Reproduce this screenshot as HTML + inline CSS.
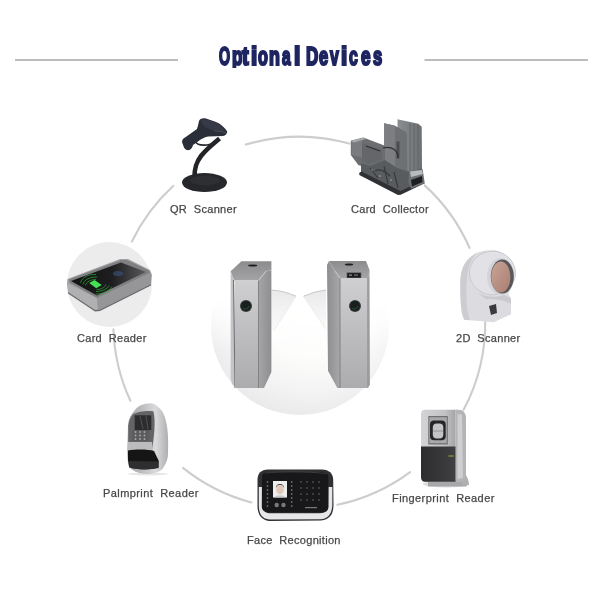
<!DOCTYPE html>
<html><head><meta charset="utf-8">
<style>
html,body{margin:0;padding:0;background:#fff;}
#c{position:relative;width:600px;height:600px;overflow:hidden;background:#fff;}
svg{position:absolute;left:0;top:0;}
.t{position:absolute;font-family:"Liberation Sans",sans-serif;font-size:11px;color:#474747;white-space:pre;line-height:12px;letter-spacing:0.3px;-webkit-text-stroke:0.25px #474747;will-change:transform;}
#title span{position:absolute;font-family:"Liberation Sans",sans-serif;font-weight:bold;line-height:40px;color:#1e2560;white-space:pre;transform-origin:0 0;-webkit-text-stroke:2.2px #1e2560;}
</style></head><body><div id="c">
<svg width="600" height="600" viewBox="0 0 600 600">
<defs>
  <radialGradient id="floor" cx="0.56" cy="0.36" r="0.68" fx="0.6" fy="0.3">
    <stop offset="0" stop-color="#fff"/><stop offset="0.5" stop-color="#fdfdfc"/><stop offset="0.8" stop-color="#f2f2f2"/><stop offset="1" stop-color="#e8e8e8"/>
  </radialGradient>
  <linearGradient id="floorfade" x1="0" x2="0" y1="0" y2="1">
    <stop offset="0" stop-color="#000"/><stop offset="0.35" stop-color="#000"/><stop offset="0.6" stop-color="#fff"/><stop offset="1" stop-color="#fff"/>
  </linearGradient>
  <mask id="fm"><rect x="200" y="230" width="200" height="200" fill="url(#floorfade)"/></mask>
  <linearGradient id="tfront" x1="0" x2="0" y1="0" y2="1">
    <stop offset="0" stop-color="#cfcfd2"/><stop offset="0.5" stop-color="#bdbdc0"/><stop offset="1" stop-color="#acacaf"/>
  </linearGradient>
  <linearGradient id="ttop" x1="0" x2="0" y1="0" y2="1">
    <stop offset="0" stop-color="#8c8c8f"/><stop offset="1" stop-color="#a4a4a7"/>
  </linearGradient>
  <linearGradient id="tside" x1="0" x2="1" y1="0" y2="0">
    <stop offset="0" stop-color="#a5a5a8"/><stop offset="1" stop-color="#8e8e91"/>
  </linearGradient>
  <linearGradient id="tside2" x1="0" x2="1" y1="0" y2="0">
    <stop offset="0" stop-color="#8e8e91"/><stop offset="1" stop-color="#a8a8ab"/>
  </linearGradient>
  <linearGradient id="wing" x1="0" x2="0" y1="0" y2="1">
    <stop offset="0" stop-color="#e9e9e9"/><stop offset="0.5" stop-color="#f3f3f3"/><stop offset="1" stop-color="#fafafa"/>
  </linearGradient>
  <linearGradient id="crtop" x1="0" x2="1" y1="0" y2="0">
    <stop offset="0" stop-color="#121212"/><stop offset="0.55" stop-color="#1e1e20"/><stop offset="1" stop-color="#5a5a5c"/>
  </linearGradient>
  <linearGradient id="ccback" x1="0" x2="1" y1="0" y2="0">
    <stop offset="0" stop-color="#8c8f92"/><stop offset="1" stop-color="#6c6f72"/>
  </linearGradient>
  <linearGradient id="fpdark" x1="0" x2="1" y1="0" y2="0">
    <stop offset="0" stop-color="#2c2c2e"/><stop offset="1" stop-color="#404042"/>
  </linearGradient>
  <linearGradient id="fpsilver" x1="0" x2="1" y1="0" y2="0">
    <stop offset="0" stop-color="#d4d4d6"/><stop offset="0.7" stop-color="#c2c2c4"/><stop offset="1" stop-color="#a4a4a6"/>
  </linearGradient>
  <linearGradient id="ppbody" x1="0" x2="1" y1="0" y2="0">
    <stop offset="0" stop-color="#a6a6a8"/><stop offset="0.3" stop-color="#b8b8ba"/><stop offset="0.7" stop-color="#dadadc"/><stop offset="1" stop-color="#aeaeb0"/>
  </linearGradient>
  <linearGradient id="lens" x1="0" x2="1" y1="0" y2="1">
    <stop offset="0" stop-color="#caa498"/><stop offset="1" stop-color="#a87e70"/>
  </linearGradient>
</defs>
<!-- title lines -->
<rect x="15" y="59" width="163" height="2" fill="#bdbdbd"/>
<rect x="424.5" y="59" width="163.5" height="2" fill="#bdbdbd"/>
<!-- circle arcs -->
<g fill="none" stroke="#cdcdcd" stroke-width="2.1" stroke-linecap="round">
<path d="M245.8 144.6 A186 186 0 0 1 349.3 143.6"/>
<path d="M424.7 185.4 A186 186 0 0 1 469.6 248.0"/>
<path d="M485.2 318.9 A186 186 0 0 1 463.6 409.8"/>
<path d="M410.1 472.1 A186 186 0 0 1 337.3 504.8"/>
<path d="M251.4 502.5 A186 186 0 0 1 183.0 467.9"/>
<path d="M130.4 400.8 A186 186 0 0 1 113.4 329.2"/>
<path d="M131.9 241.5 A186 186 0 0 1 173.4 185.8"/>
</g>

<!-- floor under turnstiles -->
<circle cx="300" cy="326" r="89" fill="url(#floor)" mask="url(#fm)"/>

<!-- QR scanner -->
<g id="qr">
<ellipse cx="204.5" cy="182.5" rx="22.5" ry="9.5" fill="#25272b"/>
<ellipse cx="205" cy="180.5" rx="15" ry="5" fill="#2d2f33"/>
<path d="M219.5 138.5 C213 144 206 149.5 201 156 C196.5 162 194.5 167 194.5 177" fill="none" stroke="#222428" stroke-width="4.6"/>
<path d="M195 141 C196 144 201 145.5 207 145 C212 144.5 215.5 142.5 216.5 139.5" fill="none" stroke="#25282e" stroke-width="1.6"/>
<path d="M199 121 C200 118.5 203 118 206 118.5 L216 122 C221 124 225 128 227.2 131.5 C227 134 225.5 135.5 223 136 L208 136.5 C204 137.5 201 139 198 141.5 L193 145 C192.5 147 191.5 149 189.5 150 C187 150.5 185 149.5 184 147.5 L182 142 C182 140 183 138.5 185 137.5 L197 129 C198 126 198.5 123 199 121 Z" fill="#2a2e38"/>
<path d="M201 120 C204 119 208 119.5 213 121.5 C219 124 223 127.5 225 131 L212 130 C206 128.5 202 125.5 201 120 Z" fill="#353a46"/>
<path d="M214 130.5 L226 132.5" stroke="#4a5262" stroke-width="1"/>
</g>

<!-- Card collector -->
<g id="cc">
<polygon points="397.5,119.2 418.3,123.7 421.7,126.7 422,168.3 411.7,175 406.7,175.8 397.5,173.3" fill="url(#ccback)"/>
<g stroke="#5c5f62" stroke-width="0.7"><line x1="410" y1="123" x2="410" y2="172"/><line x1="414" y1="124" x2="414" y2="171"/><line x1="418" y1="125" x2="418" y2="170"/></g>
<polygon points="384.2,123.3 395,125.8 406.7,132.5 407.5,175.8 395,170 384.2,161.7" fill="#6e7073"/>
<polygon points="384.2,123.3 395,125.8 395,170 384.2,161.7" fill="#7c7e81"/>
<rect x="396.5" y="141.5" width="3" height="17" fill="#4a4c4e"/>
<polygon points="350.8,140.8 363.3,137.5 385,145.8 385,163.3 368.3,168.3 358.3,165 350.8,155" fill="#6c6d70"/>
<polygon points="351.5,141.5 362,139 362,157.5 351.5,155" fill="#7a7b7d"/>
<polygon points="351,141 363,137.8 366,139 354,142.5" fill="#a8a9ab"/>
<polygon points="362,143 382,149.5 382,160 368,164 362,161" fill="#65666a"/>
<path d="M366 146 L380 151 M383 148 C392 146 398 150 398 158" stroke="#2e2f32" stroke-width="1.2" fill="none"/>
<polygon points="361,163 370,166 385,160 397,168 410,172 422,168 423,181 400,192 361,174" fill="#595c5f"/>
<path d="M370 168 L378 178 M384 166 L388 184 M394 172 L398 188 M375 171 C380 168 386 172 390 176" stroke="#35373a" stroke-width="1.1" fill="none"/>
<g fill="#8a8c8f"><circle cx="380" cy="176" r="1"/><circle cx="391" cy="180" r="1"/><circle cx="372" cy="170" r="0.8"/></g>
<polygon points="359.3,172.7 361.5,171.5 400.5,191 423,180.5 424.7,183.3 400.7,194.7 398,195 359.3,175" fill="#303134"/>
<polygon points="409,171 422.7,169.3 424.7,183.3 411,189 408.5,182" fill="#6e7073"/>
<polygon points="410,171.5 422,170 423,174 411,177" fill="#b8babc"/>
<polygon points="411,180 422,176 422.5,182 412,186.5" fill="#1e1f21"/>
</g>

<!-- Card reader -->
<g id="cr">
<circle cx="109.5" cy="284.5" r="42.5" fill="#ececec"/>
<polygon points="67.5,279 120,259 128,259 150,270 152,275 151,284 100,309.5 95,310 68,292 67,284" fill="#a2a2a4"/>
<polygon points="68,284 97,298 98,310 95,310 68,292" fill="#b0b0b2"/>
<polygon points="97,298 151,273 151,284 100,309.5 98,310" fill="#969698"/>
<polygon points="68,292 95,310 100,309.5 151,284 151,285.5 100,311 95,311.5 68,293.5" fill="#6a6a6c"/>
<polygon points="68.5,279.5 121,260 127,260 149,270.5 150,273 97,298 70,283" fill="#808082"/>
<polygon points="71,281 121,262.5 146,272 97,295.5" fill="url(#crtop)"/>
<g fill="none" stroke="#2a9a36" stroke-width="0.8">
<path d="M80.5 283 C82 277 89 274 96 274.5"/><path d="M83 284.5 C84 279.5 90 277 97 277"/><path d="M85.5 285.5 C86.5 281.5 91 279.5 96 279.5"/>
<path d="M95.8 294 C103 294 110 291 111.7 286.7"/><path d="M96 291.5 C102 291.5 107.5 289 109 285.5"/><path d="M96.5 289.5 C101 289.5 105 287.5 106 284.5"/>
</g>
<polygon points="89.2,282.9 94.6,280 101.7,285 96.25,288.3" fill="#45e055"/>
<ellipse cx="118" cy="273.5" rx="5" ry="2.5" fill="#3a5a90" opacity="0.55"/>
</g>

<!-- 2D scanner -->
<g id="sc2">
<path d="M460.3 285 C460.5 270 463 261 476.3 253 C482 250.5 490 250 495 250.3 C503 252 512 258 514.3 269 L512.3 285 L508.3 294.3 L511 298.3 L511 314.3 L493.7 322.3 L464.3 319.7 C461 315 460.3 305 460.3 285 Z" fill="#dcdce0"/>
<path d="M460.3 285 C460.5 300 461 312 464.3 319.7 L470 320.2 C467 312 466 300 466.5 285 C467 272 469 262 476.3 253 C463 261 460.5 270 460.3 285 Z" fill="#cdcdd1"/>
<path d="M478 293 C485 297 495 298 504 295 L511 298.3 L511 304 C505 300 496 299 486 299 Z" fill="#cacace"/>
<ellipse cx="492.5" cy="273" rx="23" ry="21.8" fill="#e2e2e6" stroke="#c4c4c8" stroke-width="0.8"/>
<ellipse cx="500.5" cy="276.5" rx="13.5" ry="18.5" fill="#d4d4d8"/>
<ellipse cx="502.3" cy="276.5" rx="11.5" ry="17" fill="#58585c"/>
<ellipse cx="500.8" cy="277" rx="9.6" ry="15.5" fill="url(#lens)"/>
<path d="M489 306 L496 304 L497 313 L491 315 Z" fill="#3a3a3c"/>
</g>

<!-- Turnstiles -->
<g id="ts">
<path d="M271.5 290 Q285 291 296 296.3 L274.3 330 L271.5 331 Z" fill="url(#wing)"/>
<path d="M271.5 290 Q285 291 296 296.3" fill="none" stroke="#c2c2c2" stroke-width="0.9"/>
<path d="M296 296.3 L274.3 330" fill="none" stroke="#e2e2e2" stroke-width="0.6"/>
<path d="M326 290 Q315 291 303.5 296.3 L325.7 329 L326 330 Z" fill="url(#wing)"/>
<path d="M326 290 Q315 291 303.5 296.3" fill="none" stroke="#c2c2c2" stroke-width="0.9"/>
<path d="M303.5 296.3 L325.7 329" fill="none" stroke="#e2e2e2" stroke-width="0.6"/>
<!-- left -->
<polygon points="241.4,261.3 271.4,261.3 271.4,270.5 266,271 258.5,280.5 233.9,280.5 230.6,271.3" fill="url(#ttop)"/>
<ellipse cx="252.7" cy="265.5" rx="4.6" ry="1" fill="#1e1e20"/>
<path d="M230.6 271.3 L234.3 280.5 L236 388 L232 384 L230.6 378 Z" fill="#c4c4c6"/>
<path d="M233.5 280 L235 388" stroke="#6e6e71" stroke-width="1"/>
<rect x="235" y="280.5" width="23.5" height="107.5" fill="url(#tfront)"/>
<path d="M258.5 280.5 L266 271 L271.4 270.5 L271.4 372 L264 388 L258.5 388 Z" fill="url(#tside)"/>
<path d="M258.5 280.5 L266.4 270.9" stroke="#d0d0d2" stroke-width="0.8"/>
<path d="M258.5 280.5 L258.5 388" stroke="#7a7a7d" stroke-width="0.9"/>
<circle cx="246" cy="306" r="6" fill="#3a3a3c"/>
<circle cx="246" cy="306" r="5" fill="#17201d"/>
<path d="M243 308 C245 310 248 309 249 306" stroke="#3a5a48" stroke-width="0.8" fill="none"/>
<!-- right -->
<polygon points="329,261 366,261 369.5,270 368,278 340,278 335,271" fill="url(#ttop)"/>
<ellipse cx="349" cy="264.5" rx="4.2" ry="1" fill="#1e1e20"/>
<path d="M329 261 L335 271 L340 278 L340 388 L337.3 388 L328 370.7 L327 265 Z" fill="url(#tside2)"/>
<path d="M335 271 L340 278" stroke="#d0d0d2" stroke-width="0.8"/>
<rect x="340" y="278" width="27.5" height="110" fill="url(#tfront)"/>
<path d="M340 278 L340 388" stroke="#7a7a7d" stroke-width="0.9"/>
<path d="M367.5 278 L369.5 270 L370 385 L367.5 388 Z" fill="#a4a4a7"/>
<path d="M367.8 278 L367.8 388" stroke="#7e7e81" stroke-width="0.7"/>
<rect x="346.7" y="272.5" width="14.5" height="5.5" fill="#4a4a4c"/>
<rect x="347.5" y="273.2" width="13" height="4.2" fill="#1a1a1c"/>
<rect x="349" y="274.5" width="3" height="1.2" fill="#8a9a9a"/>
<rect x="354" y="274.5" width="4" height="1.2" fill="#6a7a7a"/>
<circle cx="355" cy="306" r="6" fill="#3a3a3c"/>
<circle cx="355" cy="306" r="5" fill="#17201d"/>
<path d="M352 308 C354 310 357 309 358 306" stroke="#3a5a48" stroke-width="0.8" fill="none"/>
</g>

<!-- Palmprint -->
<g id="pp">
<ellipse cx="148" cy="474" rx="20" ry="1.5" fill="#e6e6e6"/>
<path d="M150.7 403.3 C144 403.5 139 405.5 136 408.7 C131 414 128.5 419 128 424.7 L127.3 451.3 C127.5 459 128 464 129.3 467.3 C134 472 140 474 146.7 474 C154 474 159 472 162.7 468.7 C166 464 168 459 168 454 C168.5 440 168 432 166.7 424.7 C165.5 417 163 411.5 160 408.7 C157 405.5 154 403.5 150.7 403.3 Z" fill="url(#ppbody)"/>
<path d="M133.3 414 C139 411 147 410.5 153.3 411.3 C156 420 154 438 152 449 L128.3 450 L128.3 426 C129 420 131 416 133.3 414 Z" fill="#646466"/>
<rect x="134.7" y="415.3" width="16.6" height="14.7" fill="#2c2c2e"/>
<path d="M140 416 L143 429 M146 416 L148 429" stroke="#5a5a5c" stroke-width="0.8"/>
<rect x="132" y="430" width="17.3" height="11" fill="#5c5c5e"/>
<g fill="#a8a8aa"><circle cx="135.5" cy="432" r="0.9"/><circle cx="140" cy="432" r="0.9"/><circle cx="144.5" cy="432" r="0.9"/><circle cx="135.5" cy="435.5" r="0.9"/><circle cx="140" cy="435.5" r="0.9"/><circle cx="144.5" cy="435.5" r="0.9"/><circle cx="135.5" cy="439" r="0.9"/><circle cx="140" cy="439" r="0.9"/><circle cx="144.5" cy="439" r="0.9"/></g>
<path d="M128 442 L152 442 L152.5 451 L128 451 Z" fill="#bcbcbe"/>
<path d="M128 450.5 C136 449 148 449 154 451 L158.7 460.7 L158.5 468 C150 470 136 470 129.3 467.3 L128 460 Z" fill="#151516"/>
<path d="M129 461 L158.5 461.5 L158.5 467.5 C150 470 137 470 129.5 467.3 Z" fill="#2e2e30"/>
</g>

<!-- Face recognition -->
<g id="fr">
<path d="M257.5 480 C257.5 473 261 470 268 469.5 L322 469.5 C329 470 333 473 333.2 480 L333.5 505 C333.5 514 330 519.5 321 520.5 L269 521 C261 520 257.5 514 257.5 506 Z" fill="#303032"/>
<path d="M258.8 487 L262.5 487 L263 508 C263.5 511.5 266 513 270 513.3 L320 513.3 C325 513 328 511 328.3 508 L328.5 487 L332.3 487 L332.3 505 C332 513.5 328.5 518.5 320.5 519.3 L269.5 519.5 C262 518.8 259 514 258.8 506 Z" fill="#e6e6e8"/>
<path d="M262 477 C262 473.5 264.5 472 269 472 L321 472 C325.5 472 328.3 473.5 328.3 477.5 L328.3 507 C328 510.5 325 512.5 320 512.5 L270 512.5 C265 512.5 262 510.5 261.8 507 Z" fill="#18181a"/>
<path d="M265 473 C280 471.5 310 471.5 326 473.5" stroke="#4a4a4c" stroke-width="0.7" fill="none"/>
<rect x="273" y="481" width="14" height="16.5" fill="#eeeeee"/>
<ellipse cx="280" cy="489.5" rx="3.8" ry="4.8" fill="#e2c8b8"/>
<path d="M275.8 488 C275.5 482.5 284.5 482.5 284.2 488 L283 485.5 C281 484.5 279 484.5 277 485.5 Z" fill="#201a18"/>
<path d="M274.5 497.5 C275.5 494.5 284.5 494.5 285.5 497.5 Z" fill="#c8c8c8"/>
<g fill="#7a7a7c"><circle cx="276.7" cy="505" r="2.2"/><circle cx="283.5" cy="505" r="2.2"/></g>
<g fill="#6a6a6c">
<circle cx="267.5" cy="482" r="0.9"/><circle cx="267.5" cy="486" r="0.9"/><circle cx="267.5" cy="490" r="0.9"/><circle cx="267.5" cy="494" r="0.9"/><circle cx="267.5" cy="498" r="0.9"/><circle cx="267.5" cy="502" r="0.9"/><circle cx="267.5" cy="506" r="0.9"/>
<circle cx="291.7" cy="482" r="0.9"/><circle cx="291.7" cy="486" r="0.9"/><circle cx="291.7" cy="490" r="0.9"/><circle cx="291.7" cy="494" r="0.9"/><circle cx="291.7" cy="498" r="0.9"/><circle cx="291.7" cy="502" r="0.9"/><circle cx="291.7" cy="506" r="0.9"/>
</g>
<g fill="#4a4a4c">
<circle cx="301" cy="482" r="1"/><circle cx="307" cy="482" r="1"/><circle cx="313" cy="482" r="1"/><circle cx="319" cy="482" r="1"/>
<circle cx="301" cy="488" r="1"/><circle cx="307" cy="488" r="1"/><circle cx="313" cy="488" r="1"/><circle cx="319" cy="488" r="1"/>
<circle cx="301" cy="494" r="1"/><circle cx="307" cy="494" r="1"/><circle cx="313" cy="494" r="1"/><circle cx="319" cy="494" r="1"/>
<circle cx="301" cy="500" r="1"/><circle cx="307" cy="500" r="1"/><circle cx="313" cy="500" r="1"/><circle cx="319" cy="500" r="1"/>
</g>
<rect x="305" y="507" width="12" height="1.2" fill="#7a7a7c"/>
</g>

<!-- Fingerprint -->
<g id="fp">
<ellipse cx="446" cy="484" rx="23" ry="3.5" fill="#dcdcdc"/>
<path d="M428 481 L466 481 C468 483 468 485 466 486.5 L428 486.5 Z" fill="#a8a8aa"/>
<path d="M462 470 C466 474 469 480 469 485 L462 485 Z" fill="#b0b0b2"/>
<path d="M455.5 409.5 L461 410 C464 411 466 414 466 418 L466 476 C465 480 462 482 458 482 L455.5 482 Z" fill="#b4b4b6"/>
<path d="M457.5 414 L462 414.5 L463 478 L457.5 479 Z" fill="#cfcfd1"/>
<path d="M425 409.75 L455.5 409.75 L455.5 481.75 L425 481.75 C422.5 481.75 421 480 421 477 L421 414 C421 411 422.5 409.75 425 409.75 Z" fill="url(#fpsilver)"/>
<path d="M421 446.5 L455.5 446.5 L455.5 481.75 L425 481.75 C422.5 481.75 421 480 421 477 Z" fill="url(#fpdark)"/>
<rect x="428.3" y="416" width="19.5" height="28.5" fill="#6e6e70"/>
<rect x="429.3" y="417.2" width="17.5" height="26" fill="#a8a8aa"/>
<rect x="430" y="420.6" width="15.7" height="19.7" rx="4" fill="#262628"/>
<rect x="432.8" y="423.5" width="10.5" height="15" rx="4" fill="#c4c4c6"/>
<path d="M433 431 L443 431" stroke="#8a8a8c" stroke-width="0.8"/>
<rect x="448.5" y="455" width="5" height="2" fill="#6a7a3a"/>
</g>
</svg>

<div id="title"><span style="left:218.81px;top:35.60px;font-size:25.5px;transform:scaleX(0.557)">O</span><span style="left:231.50px;top:35.60px;font-size:25.0px;transform:scaleX(0.688);height:32.7px;overflow:hidden">p</span><span style="left:242.45px;top:35.60px;font-size:25.0px;transform:scaleX(0.800)">t</span><span style="left:250.95px;top:35.60px;font-size:25.0px;transform:scaleX(0.900)">i</span><span style="left:258.45px;top:35.60px;font-size:25.0px;transform:scaleX(0.647)">o</span><span style="left:269.10px;top:35.60px;font-size:25.0px;transform:scaleX(0.712)">n</span><span style="left:282.12px;top:35.60px;font-size:25.0px;transform:scaleX(0.618)">a</span><span style="left:294.18px;top:35.60px;font-size:25.0px;transform:scaleX(0.920)">l</span><span style="left:305.75px;top:35.60px;font-size:25.5px;transform:scaleX(0.666)">D</span><span style="left:319.36px;top:35.60px;font-size:25.0px;transform:scaleX(0.659)">e</span><span style="left:330.37px;top:35.60px;font-size:25.0px;transform:scaleX(0.633)">v</span><span style="left:341.20px;top:35.60px;font-size:25.0px;transform:scaleX(0.900)">i</span><span style="left:349.33px;top:35.60px;font-size:25.0px;transform:scaleX(0.631)">c</span><span style="left:360.59px;top:35.60px;font-size:25.0px;transform:scaleX(0.688)">e</span><span style="left:373.06px;top:35.60px;font-size:25.0px;transform:scaleX(0.663)">s</span></div>
<div class="t" style="left:170px;top:203px">QR  Scanner</div>
<div class="t" style="left:350.5px;top:203px">Card  Collector</div>
<div class="t" style="left:77px;top:332px">Card  Reader</div>
<div class="t" style="left:456px;top:332px">2D  Scanner</div>
<div class="t" style="left:102.5px;top:487px;letter-spacing:0.42px">Palmprint  Reader</div>
<div class="t" style="left:391.5px;top:492px;letter-spacing:0.42px">Fingerprint  Reader</div>
<div class="t" style="left:247px;top:534px">Face  Recognition</div>
</div></body></html>
